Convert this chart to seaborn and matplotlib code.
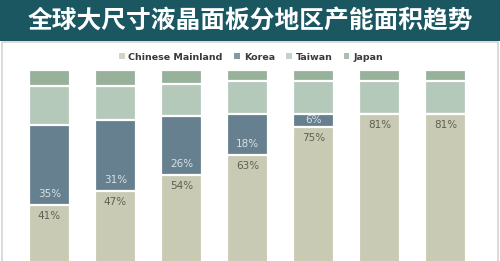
import matplotlib
matplotlib.use("Agg")
import matplotlib.pyplot as plt
from matplotlib.patches import Rectangle
import seaborn as sns
import pandas as pd
import numpy as np

# ---- data ----
periods = ["P1", "P2", "P3", "P4", "P5", "P6", "P7"]
series_names = ["Chinese Mainland", "Korea", "Taiwan", "Japan"]
chinese = [41, 47, 54, 63, 75, 81, 81]
korea = [35, 31, 26, 18, 6, 0, 0]
taiwan = [17, 15, 14, 14, 14, 14, 14]
japan = [7, 7, 6, 5, 5, 5, 5]
title_text = "全球大尺寸液晶面板分地区产能面积趋势"

colors = {"Chinese Mainland": "#c9cab3", "Korea": "#66808f",
          "Taiwan": "#b5c9bb", "Japan": "#98b19b"}

sns.set_theme(style="white")
plt.rcParams['font.family'] = ['DejaVu Sans']

W, H = 500, 261
fig = plt.figure(figsize=(W / 100, H / 100), dpi=100)
fig.patch.set_facecolor("white")

# title bar
title_h = 41
fig.patches.append(Rectangle((0, 1 - title_h / H), 1, title_h / H,
                             transform=fig.transFigure, facecolor="#1b5761",
                             edgecolor="none", zorder=0))
fig.text(0.5, 1 - 21 / H, title_text, ha="center", va="center", color="white",
         fontsize=17.8, fontweight="bold",
         family=["Noto Sans CJK SC", "DejaVu Sans"])
# light frame around chart area
fig.patches.append(Rectangle((1.5 / W, -0.01), 1 - 4 / W, 1 - (title_h + 1) / H + 0.01,
                             transform=fig.transFigure, facecolor="none",
                             edgecolor="#d4d4d4", linewidth=1.2, zorder=0))

ax_top = 45
ax = fig.add_axes([0, 0, 1, 1 - ax_top / H])
ax.set_facecolor("none")

df = pd.DataFrame({"period": periods, "Chinese Mainland": chinese,
                   "Korea": korea, "Taiwan": taiwan, "Japan": japan})
cum = df[series_names].cumsum(axis=1)

# draw from top layer down so lower layers overlap
for name in reversed(series_names):
    sns.barplot(x=df["period"], y=cum[name], color=colors[name], saturation=1,
                width=0.62, edgecolor="white", linewidth=1.6, label=name, ax=ax,
                order=periods, legend=False)
if ax.get_legend() is not None:
    ax.get_legend().remove()

# labels
for i in range(len(periods)):
    c = chinese[i]
    k = korea[i]
    ax.text(i, c - 4.8, f"{c}%", ha="center", va="center", fontsize=7.5,
            color="#5e5f55")
    if k > 0:
        ax.text(i, c + min(4.8, k / 2), f"{k}%", ha="center", va="center",
                fontsize=7.5, color="#d6e2e6")

# y mapping: pixel_y = 299 - 2.29 * v
px_per = 2.29
base = 299
ax.set_ylim((base - H) / px_per, (base - ax_top) / px_per)
ax.set_xlim((0 - 49.5) / 66, (W - 49.5) / 66)
ax.set_xticks([])
ax.set_yticks([])
ax.set_xlabel("")
ax.set_ylabel("")
for s in ax.spines.values():
    s.set_visible(False)

leg_handles = [Rectangle((0, 0), 1, 1, facecolor=colors[n], edgecolor="none", alpha=0.8)
               for n in series_names]
leg = fig.legend(leg_handles, series_names, loc="center",
                 bbox_to_anchor=(251 / W, 1 - 57 / H), ncol=4, frameon=False,
                 handlelength=0.6, handleheight=0.6, handletextpad=0.4,
                 columnspacing=1.2, borderpad=0,
                 prop={"family": ["DejaVu Sans"], "weight": "bold", "size": 6.8})
for t in leg.get_texts():
    t.set_color("#3a3a3a")

fig.savefig("out.png", dpi=100)
